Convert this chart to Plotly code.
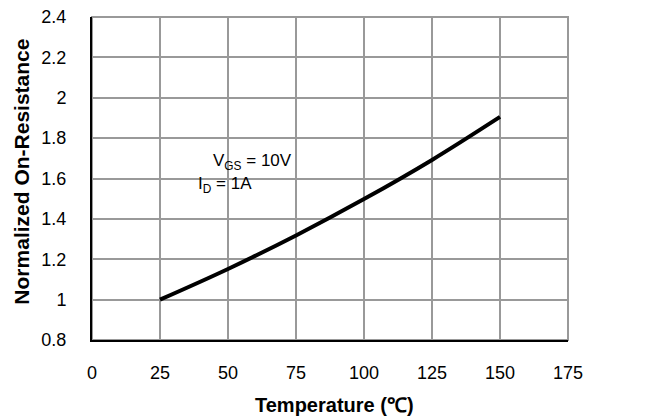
import plotly.graph_objects as go

temperature = [25, 50, 75, 100, 125, 150]
norm_rds_on = [1.00, 1.152, 1.318, 1.498, 1.692, 1.905]

x_ticks = [0, 25, 50, 75, 100, 125, 150, 175]
y_ticks = [0.8, 1.0, 1.2, 1.4, 1.6, 1.8, 2.0, 2.2, 2.4]
y_tick_text = ["0.8", "1", "1.2", "1.4", "1.6", "1.8", "2", "2.2", "2.4"]

FONT = "Liberation Sans, Arial, sans-serif"

fig = go.Figure()
fig.add_trace(go.Scatter(
    x=temperature, y=norm_rds_on, mode="lines",
    line=dict(color="black", width=4, shape="spline"),
    showlegend=False, hoverinfo="skip"))

fig.add_shape(type="rect", xref="paper", yref="paper", x0=0, y0=0, x1=1, y1=1,
              line=dict(color="#999999", width=2), layer="below")

fig.add_annotation(x=59, y=1.68, text="V<sub>GS</sub> = 10V", showarrow=False,
                   font=dict(family=FONT, size=17, color="black"))
fig.add_annotation(x=49, y=1.57, text="I<sub>D</sub> = 1A", showarrow=False,
                   font=dict(family=FONT, size=17, color="black"))

fig.add_annotation(xref="paper", yref="paper", x=0.51, y=-0.2, yanchor="middle",
                   text="<b>Temperature (℃)</b>", showarrow=False,
                   font=dict(family=FONT, size=20, color="black"))
fig.add_annotation(xref="paper", yref="paper", x=-0.15, xanchor="center", y=0.52,
                   yanchor="middle", text="<b>Normalized On-Resistance</b>", textangle=-90,
                   showarrow=False, font=dict(family=FONT, size=21, color="black"))

fig.update_layout(
    width=653, height=409,
    margin=dict(l=84, r=93, t=9, b=77),
    paper_bgcolor="white", plot_bgcolor="white",
    font=dict(family=FONT, size=18, color="black"),
    xaxis=dict(range=[0, 175], tickvals=x_ticks, ticks="outside", ticklen=15,
               tickcolor="rgba(0,0,0,0)", showgrid=True, gridcolor="#999999", gridwidth=2,
               showline=True, linecolor="black", linewidth=2, zeroline=False,
               automargin=False, ticklabeloverflow="allow"),
    yaxis=dict(range=[0.8, 2.4], tickvals=y_ticks, ticktext=y_tick_text, ticks="outside",
               ticklen=20, tickcolor="rgba(0,0,0,0)", showgrid=True, gridcolor="#999999",
               gridwidth=2, showline=True, linecolor="black", linewidth=2, zeroline=False,
               automargin=False, ticklabeloverflow="allow"),
)

fig.write_html("out.html")
